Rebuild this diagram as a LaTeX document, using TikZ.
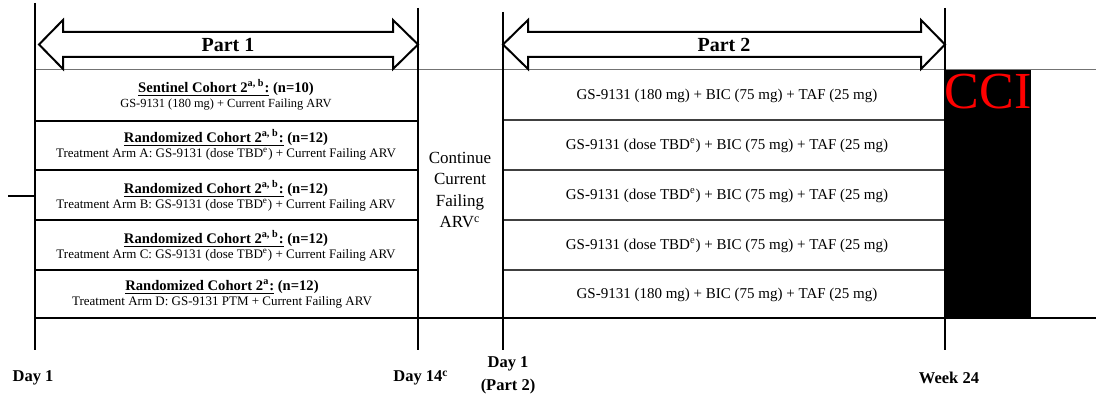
\documentclass[tikz,border=0pt]{standalone}
\usepackage{fontspec}
\setmainfont{Liberation Serif}
\newcommand\hdfont{\bfseries\fontsize{7.3}{9}\selectfont}
\begin{document}
\begin{tikzpicture}[x=0.5pt,y=-0.5pt,
  heavy/.style={line width=1pt, black},
  hair/.style={line width=0.5pt, black!55},
  rowsep/.style={line width=0.7pt, black!75},
  arrowshape/.style={line width=1pt, black, fill=white, line join=miter},
  partlbl/.style={font=\bfseries\fontsize{10}{12}\selectfont, inner sep=0},
  leftcell/.style={align=center, inner sep=0, font=\fontsize{6.5}{7.7}\selectfont},
  rightcell/.style={align=center, inner sep=0, font=\fontsize{7.5}{9}\selectfont},
  midcell/.style={align=center, inner sep=0, font=\fontsize{8.5}{10.75}\selectfont},
  daylbl/.style={align=center, inner sep=0, font=\bfseries\fontsize{8.25}{11.5}\selectfont}
]
\useasboundingbox (0,0) rectangle (1096,395);

% timeline coordinates
\coordinate (v1t) at (35,3);   \coordinate (v1b) at (35,350);
\coordinate (v2t) at (418,8);  \coordinate (v2b) at (418,350);
\coordinate (v3t) at (503,12); \coordinate (v3b) at (503,350);
\coordinate (v4t) at (945,8);  \coordinate (v4b) at (945,350);
\coordinate (topl) at (35,70); \coordinate (topr) at (1096,70);
\coordinate (botl) at (35,318); \coordinate (botr) at (1096,318);
\coordinate (tickl) at (8,196); \coordinate (tickr) at (35,196);

% black CCI block
\node[fill=black, inner sep=0, minimum width=43pt, minimum height=124pt, anchor=north west] (cci) at (945,70) {};
\node[text=red, inner sep=0, anchor=north, font=\fontsize{26}{26}\selectfont] (ccitext) at (988,74) {CCI};

% horizontal lines
\draw[hair] (topl) -- (topr);
\draw[line width=0.9pt] (botl) -- (botr);
\foreach \y in {121,170,220,270} {
  \draw[heavy] (35,\y) coordinate (ls\y) -- (418,\y) coordinate (le\y);
}
\foreach \y in {120,170,220,270} {
  \draw[rowsep] (503,\y) coordinate (rs\y) -- (945,\y) coordinate (re\y);
}
\draw[heavy] (tickl) -- (tickr);

% vertical lines
\draw[heavy] (v1t) -- (v1b);
\draw[heavy] (v2t) -- (v2b);
\draw[heavy] (v3t) -- (v3b);
\draw[heavy] (v4t) -- (v4b);

% Part arrows
\draw[arrowshape] (39,44.5) -- (63,20) -- (63,32) -- (393,32) -- (393,20) -- (418,44.5)
  -- (393,69) -- (393,57) -- (63,57) -- (63,69) -- cycle;
\node[partlbl] (p1) at (228,45) {Part 1};
\draw[arrowshape] (503,44.5) -- (528,20) -- (528,32) -- (921,32) -- (921,20) -- (945,44.5)
  -- (921,69) -- (921,57) -- (528,57) -- (528,69) -- cycle;
\node[partlbl] (p2) at (724,45) {Part 2};

% left cells
\node[leftcell] (L1) at (226,95) {{\hdfont\underline{Sentinel Cohort 2\textsuperscript{a, b}:} (n=10)}\\
  {\fontsize{6.2}{7.5}\selectfont GS-9131 (180 mg) + Current Failing ARV}};
\node[leftcell] (L2) at (226,145) {{\hdfont\underline{Randomized Cohort 2\textsuperscript{a, b}:} (n=12)}\\
  Treatment Arm A: GS-9131 (dose TBD\textsuperscript{e}) + Current Failing ARV};
\node[leftcell] (L3) at (226,196) {{\hdfont\underline{Randomized Cohort 2\textsuperscript{a, b}:} (n=12)}\\
  Treatment Arm B: GS-9131 (dose TBD\textsuperscript{e}) + Current Failing ARV};
\node[leftcell] (L4) at (226,246) {{\hdfont\underline{Randomized Cohort 2\textsuperscript{a, b}:} (n=12)}\\
  Treatment Arm C: GS-9131 (dose TBD\textsuperscript{e}) + Current Failing ARV};
\node[leftcell] (L5) at (222,294) {{\hdfont\underline{Randomized Cohort 2\textsuperscript{a}:} (n=12)}\\
  Treatment Arm D: GS-9131 PTM + Current Failing ARV};

% middle cell
\node[midcell] (mid) at (460,190) {Continue\\Current\\Failing\\ARV\textsuperscript{c}};

% right cells
\node[rightcell] (R1) at (727,96) {GS-9131 (180 mg) + BIC (75 mg) + TAF (25 mg)};
\node[rightcell] (R2) at (727,146) {GS-9131 (dose TBD\textsuperscript{e}) + BIC (75 mg) + TAF (25 mg)};
\node[rightcell] (R3) at (727,196) {GS-9131 (dose TBD\textsuperscript{e}) + BIC (75 mg) + TAF (25 mg)};
\node[rightcell] (R4) at (727,246) {GS-9131 (dose TBD\textsuperscript{e}) + BIC (75 mg) + TAF (25 mg)};
\node[rightcell] (R5) at (727,295) {GS-9131 (180 mg) + BIC (75 mg) + TAF (25 mg)};

% day labels
\node[daylbl] (d1) at (33,378) {Day 1};
\node[daylbl] (d14) at (421,378) {Day 14\textsuperscript{c}};
\node[daylbl] (d1p2) at (508,375) {Day 1\\(Part 2)};
\node[daylbl] (w24) at (949,378) {Week 24};
\end{tikzpicture}
\end{document}
